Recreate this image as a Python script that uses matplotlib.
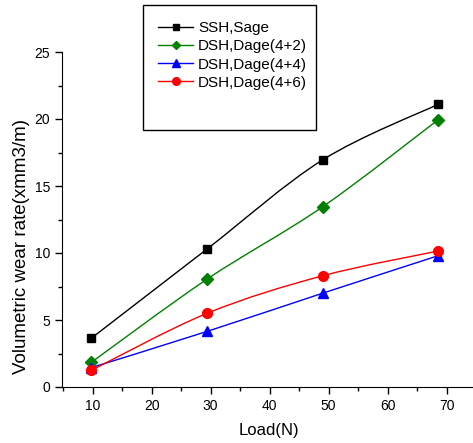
import matplotlib
matplotlib.use('Agg')
import matplotlib.pyplot as plt
from matplotlib.path import Path
from matplotlib.patches import PathPatch, Rectangle
from matplotlib.lines import Line2D
import numpy as np

plt.rcParams['font.family'] = ['Liberation Sans', 'DejaVu Sans']

load = [9.8, 29.4, 49.0, 68.6]        # Load in N
ssh_sage = [3.65, 10.3, 16.95, 21.1]
dsh_42 = [1.85, 8.05, 13.45, 19.95]
dsh_44 = [1.45, 4.15, 7.0, 9.8]
dsh_46 = [1.25, 5.5, 8.3, 10.15]

labels = ['SSH,Sage', 'DSH,Dage(4+2)', 'DSH,Dage(4+4)', 'DSH,Dage(4+6)']
colors = ['black', 'green', 'blue', 'red']
markers = ['s', 'D', '^', 'o']
sizes = [6, 6, 7, 7]


def smooth_path(x, y):
    # Catmull-Rom curve through the points, as cubic Bezier segments
    p = np.column_stack([x, y])
    q = np.vstack([p[0], p, p[-1]])
    verts = [p[0]]
    codes = [Path.MOVETO]
    for i in range(len(p) - 1):
        c1 = q[i + 1] + (q[i + 2] - q[i]) / 6
        c2 = q[i + 2] - (q[i + 3] - q[i + 1]) / 6
        verts += [c1, c2, q[i + 2]]
        codes += [Path.CURVE4] * 3
    return Path(verts, codes)


fig = plt.figure(figsize=(4.73, 4.43), dpi=100)
ax = fig.add_axes([62 / 473, 56 / 443, 414 / 473, 335 / 443])

handles = []
for vals, lab, c, m, s in zip([ssh_sage, dsh_42, dsh_44, dsh_46], labels, colors, markers, sizes):
    ax.add_patch(PathPatch(smooth_path(load, vals), facecolor='none', edgecolor=c, lw=1.0))
    ax.plot(load, vals, linestyle='none', marker=m, color=c, markersize=s)
    handles.append(Line2D([], [], color=c, marker=m, markersize=s - 1.5, lw=1.0, label=lab))

ax.set_xlim(4.8, 75)
ax.set_ylim(0, 25)
ax.set_xticks([10, 20, 30, 40, 50, 60, 70])
ax.set_xticks(np.arange(5, 75, 10), minor=True)
ax.set_yticks([0, 5, 10, 15, 20, 25])
ax.set_yticks(np.arange(2.5, 25, 5), minor=True)
ax.tick_params(which='major', direction='out', length=5, width=1, labelsize=10)
ax.tick_params(which='minor', direction='out', length=3, width=1)
ax.spines['top'].set_visible(False)
ax.spines['right'].set_visible(False)
ax.set_xlabel('Load(N)', fontsize=12, labelpad=7)
ax.set_ylabel('Volumetric wear rate(xmm3/m)', fontsize=13.5)
ax.yaxis.set_label_coords(-0.077, 0.418)

# legend frame, taller than its entries
fig.patches.append(Rectangle((143 / 473, 1 - 130 / 443), 173 / 473, 125 / 443,
                             transform=fig.transFigure, fill=False, edgecolor='black', lw=1.0))
fig.legend(handles=handles, loc='upper left', bbox_to_anchor=(158 / 473, 1 - 21 / 443),
           frameon=False, fontsize=11, handlelength=2.3, handletextpad=0.33,
           labelspacing=0.28, borderaxespad=0, borderpad=0)

fig.savefig('out.png', dpi=100)
